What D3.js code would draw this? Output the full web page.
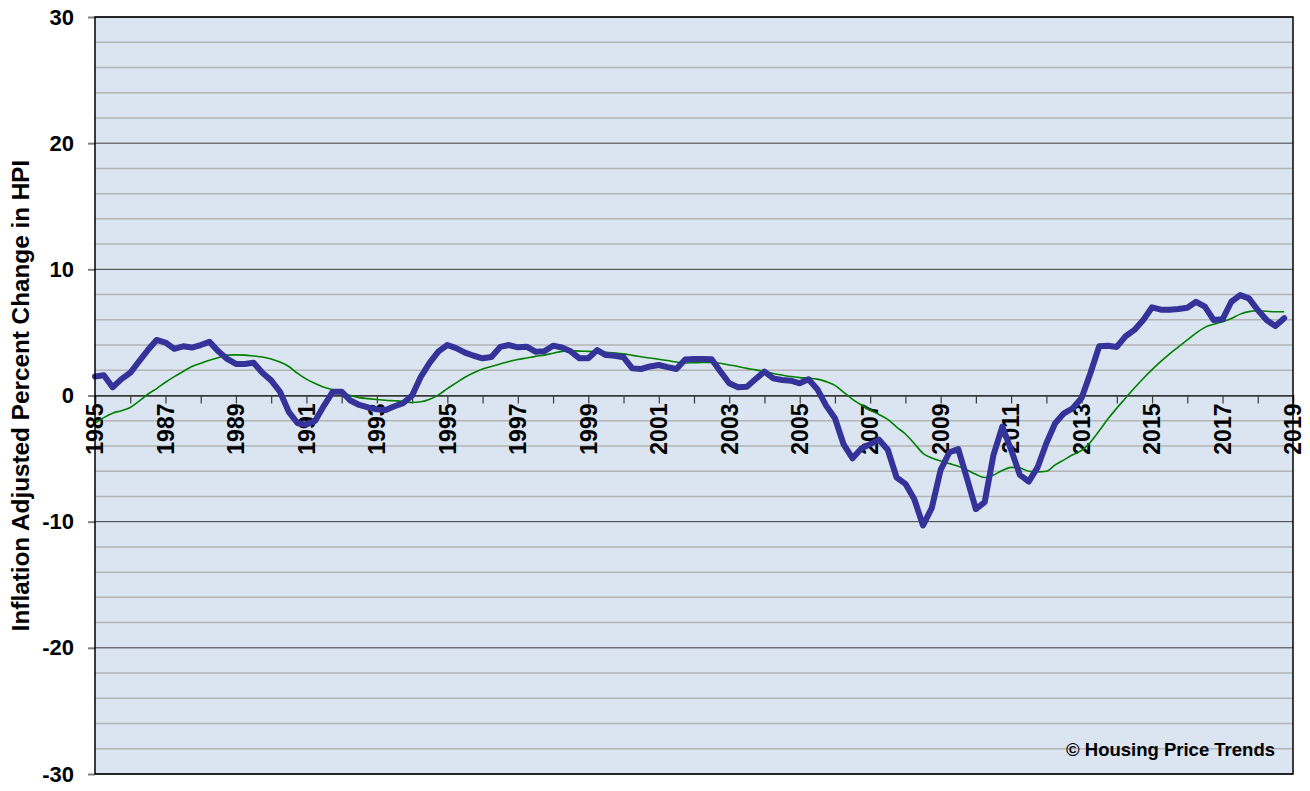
<!DOCTYPE html>
<html>
<head>
<meta charset="utf-8">
<script src="https://cdn.jsdelivr.net/npm/d3@7"></script>
<style>
  body { margin: 0; background: #fff; }
  text { font-family: Arial, "Liberation Sans", sans-serif; font-weight: bold; fill: #000; }
</style>
</head>
<body>
<script>
// quarterly values, first quarter of 1985 onwards
const startYear = 1985;

const hpiChange = [
  1.5, 1.6, 0.65, 1.3,   1.8, 2.7, 3.6, 4.4,   4.2, 3.7, 3.9, 3.8,   4.0, 4.25, 3.5, 2.9,
  2.5, 2.5, 2.6, 1.8,    1.2, 0.3, -1.3, -2.2, -2.3, -2.0, -0.8, 0.3, 0.3, -0.4, -0.75, -0.95,
  -1.1, -1.15, -0.85, -0.6, 0.0, 1.5, 2.6, 3.5, 4.0, 3.75, 3.4, 3.15, 2.95, 3.05, 3.85, 4.0,
  3.82, 3.87, 3.47, 3.5, 3.95, 3.8, 3.5, 2.95, 2.95, 3.6, 3.2, 3.15, 3.03, 2.15, 2.1, 2.3,
  2.42, 2.25, 2.1, 2.85, 2.9, 2.9, 2.87, 1.9,  0.97, 0.65, 0.7, 1.3,  1.9, 1.36, 1.23, 1.17,
  0.97, 1.28, 0.5, -0.8, -1.8, -3.9, -4.98, -4.2, -3.85, -3.5, -4.3, -6.5, -7.0, -8.2, -10.3, -8.9,
  -5.9, -4.5, -4.25, -6.6, -9.0, -8.45, -4.7, -2.47, -4.3, -6.3, -6.83, -5.7, -3.79, -2.2, -1.41, -1.01,
  -0.2, 1.76, 3.9, 3.95, 3.85, 4.7, 5.2, 5.98, 6.99, 6.8, 6.8, 6.85, 6.95, 7.43, 7.04, 5.98,
  6.04, 7.43, 7.96, 7.7, 6.77, 5.98, 5.5, 6.12
];

const smoothed = [
  -2.2, -1.75, -1.4, -1.2, -0.95, -0.45, 0.1, 0.55, 1.05, 1.5, 1.9, 2.3, 2.55, 2.8, 3.0, 3.2,
  3.22, 3.2, 3.13, 3.05, 2.9, 2.65, 2.3, 1.75, 1.3, 0.95, 0.65, 0.45, 0.15, 0.0, -0.17, -0.25,
  -0.32, -0.38, -0.42, -0.47, -0.55, -0.5, -0.3, 0.05, 0.55, 1.0, 1.45, 1.8, 2.1, 2.3, 2.5, 2.7,
  2.85, 2.97, 3.1, 3.2, 3.35, 3.5, 3.55, 3.52, 3.5, 3.47, 3.42, 3.37, 3.3, 3.18, 3.07, 2.97,
  2.87, 2.77, 2.65, 2.58, 2.6, 2.62, 2.62, 2.55, 2.42, 2.3, 2.15, 2.03, 1.9, 1.75, 1.62, 1.5,
  1.42, 1.38, 1.3, 1.1, 0.8, 0.25, -0.3, -0.75, -1.15, -1.5, -1.9, -2.5, -3.05, -3.8, -4.58, -4.95,
  -5.2, -5.4, -5.6, -5.9, -6.25, -6.5, -6.3, -5.95, -5.7, -5.75, -6.0, -6.05, -6.0, -5.5, -5.1, -4.7,
  -4.35, -3.7, -2.8, -1.85, -1.0, -0.2, 0.6, 1.35, 2.05, 2.7, 3.3, 3.85, 4.4, 4.95, 5.4, 5.65,
  5.85, 6.1, 6.45, 6.65, 6.72, 6.68, 6.64, 6.64
];

const yTicks = [30, 20, 10, 0, -10, -20, -30];
const yMinor = d3.range(-30, 31, 2);
const yearTicks = d3.range(1985, 2020);
const yearLabels = yearTicks.filter((y) => y % 2 === 1);
const yTitle = "Inflation Adjusted Percent Change in HPI";
const credit = "\u00a9 Housing Price Trends";

const width = 1310;
const height = 791;
const margin = { top: 17, right: 17, bottom: 17, left: 95 };

const x = d3.scaleLinear().domain([1985, 2019]).range([margin.left, width - margin.right]);
const y = d3.scaleLinear().domain([-30, 30]).range([height - margin.bottom, margin.top]);

const svg = d3.select("body").append("svg")
  .attr("width", width)
  .attr("height", height);

// plot background
svg.append("rect")
  .attr("x", x(1985)).attr("y", y(30))
  .attr("width", x(2019) - x(1985)).attr("height", y(-30) - y(30))
  .attr("fill", "#dbe5f1");

// minor grid
svg.append("g")
  .selectAll("line")
  .data(yMinor.filter((v) => v % 10 !== 0))
  .join("line")
  .attr("x1", x(1985)).attr("x2", x(2019))
  .attr("y1", (d) => y(d)).attr("y2", (d) => y(d))
  .attr("stroke", "#b4b4b4").attr("stroke-width", 1.5);

// major grid
svg.append("g")
  .selectAll("line")
  .data(yTicks)
  .join("line")
  .attr("x1", x(1985)).attr("x2", x(2019))
  .attr("y1", (d) => y(d)).attr("y2", (d) => y(d))
  .attr("stroke", "#3a3a3a").attr("stroke-width", 1);

// y axis
const yAxis = svg.append("g")
  .attr("transform", `translate(${x(1985)},0)`)
  .call(d3.axisLeft(y).tickValues(yTicks).tickSize(7).tickPadding(14).tickFormat((d) => String(d)));
yAxis.select(".domain").remove();
yAxis.selectAll(".tick line").attr("stroke", "#808080").attr("stroke-width", 2);
yAxis.selectAll(".tick text").attr("font-size", 22).attr("font-family", null).attr("fill", "#000");

// x axis sitting on zero
const xAxis = svg.append("g")
  .attr("transform", `translate(0,${y(0)})`)
  .call(d3.axisBottom(x).tickValues(yearTicks).tickSize(8).tickFormat(""));
xAxis.select(".domain").attr("stroke", "#3a3a3a").attr("stroke-width", 1.5);
xAxis.selectAll(".tick line").attr("stroke", "#3a3a3a").attr("stroke-width", 1.2);

svg.append("g")
  .selectAll("text")
  .data(yearLabels)
  .join("text")
  .attr("transform", (d) => `translate(${x(d)},${y(0) + 8}) rotate(-90)`)
  .attr("text-anchor", "end")
  .attr("dy", "0.36em")
  .attr("font-size", 23)
  .text((d) => d);

// lines
const quarter = (i) => startYear + i * 0.25;

svg.append("path")
  .datum(smoothed)
  .attr("fill", "none")
  .attr("stroke", "#008000")
  .attr("stroke-width", 1.6)
  .attr("d", d3.line().x((d, i) => x(quarter(i))).y((d) => y(d)).curve(d3.curveMonotoneX));

svg.append("path")
  .datum(hpiChange)
  .attr("fill", "none")
  .attr("stroke", "#333399")
  .attr("stroke-width", 6)
  .attr("stroke-linejoin", "round")
  .attr("stroke-linecap", "round")
  .attr("d", d3.line().x((d, i) => x(quarter(i))).y((d) => y(d)));

// plot border
svg.append("rect")
  .attr("x", x(1985)).attr("y", y(30))
  .attr("width", x(2019) - x(1985)).attr("height", y(-30) - y(30))
  .attr("fill", "none")
  .attr("stroke", "#000")
  .attr("stroke-width", 1.5);

// axis title
svg.append("text")
  .attr("transform", `translate(20,${(y(30) + y(-30)) / 2}) rotate(-90)`)
  .attr("text-anchor", "middle")
  .attr("dy", "0.36em")
  .attr("font-size", 24.3)
  .text(yTitle);

svg.append("text")
  .attr("x", x(2019) - 18)
  .attr("y", y(-28) + 7)
  .attr("text-anchor", "end")
  .attr("font-size", 18.5)
  .text(credit);
</script>
</body>
</html>
